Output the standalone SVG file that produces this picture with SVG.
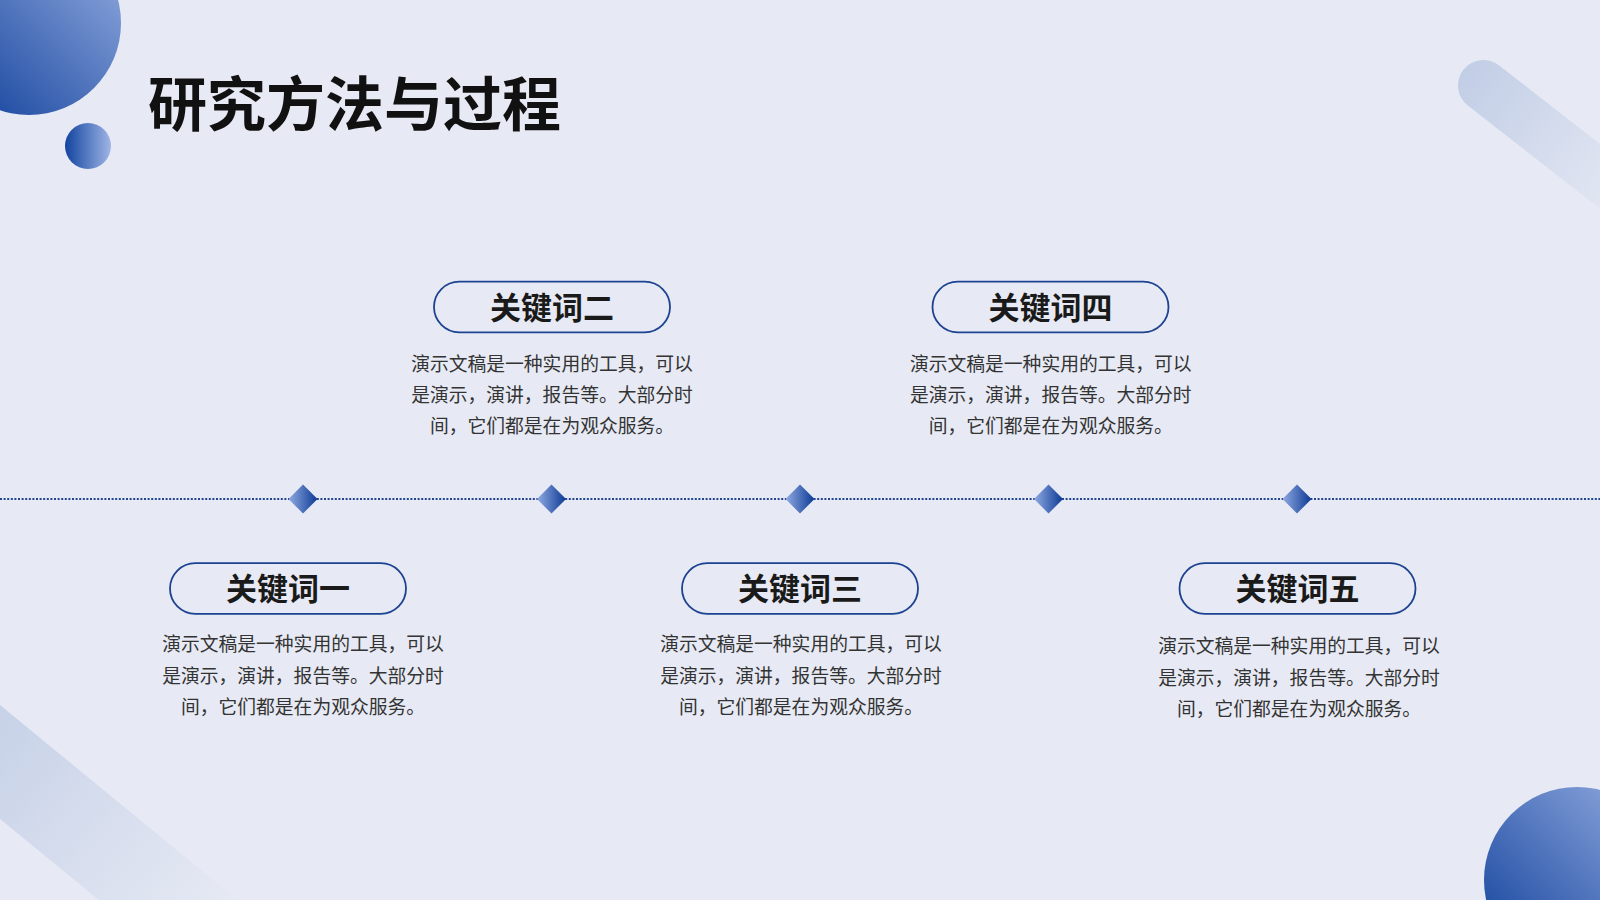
<svg xmlns="http://www.w3.org/2000/svg" width="1600" height="900" viewBox="0 0 1600 900">
  <defs>
    <linearGradient id="gBig" x1="0" y1="1" x2="1" y2="0">
      <stop offset="0" stop-color="#0a3b98"/>
      <stop offset="1" stop-color="#9ab1e3"/>
    </linearGradient>
    <linearGradient id="gSmall" x1="0" y1="0" x2="1" y2="0">
      <stop offset="0" stop-color="#1244a0"/>
      <stop offset="1" stop-color="#9fb5e5"/>
    </linearGradient>
    <linearGradient id="gDiamond" x1="0" y1="0" x2="1" y2="0">
      <stop offset="0" stop-color="#90aae2"/>
      <stop offset="1" stop-color="#0c3a94"/>
    </linearGradient>
    <linearGradient id="gBarTR" gradientUnits="userSpaceOnUse" x1="1465" y1="72" x2="1640" y2="210">
      <stop offset="0" stop-color="#c2cee6"/>
      <stop offset="1" stop-color="#e7eaf4"/>
    </linearGradient>
    <linearGradient id="gBarBL" gradientUnits="userSpaceOnUse" x1="-20" y1="720" x2="230" y2="920">
      <stop offset="0" stop-color="#c6d1e7"/>
      <stop offset="1" stop-color="#e7eaf4"/>
    </linearGradient>
  </defs>
  <style>
    .title { font-family: "Noto Sans CJK SC", "Noto Sans", sans-serif; font-weight: 700; font-size: 59px; fill: #111111; }
    .pill { fill: none; stroke: #1c4290; stroke-width: 1.8; }
    .kw { font-family: "Noto Sans CJK SC", "Noto Sans", sans-serif; font-weight: 700; font-size: 31px; fill: #1a1a1a; text-anchor: middle; }
    .body { font-family: "Noto Sans CJK SC", "Noto Sans", sans-serif; font-weight: 400; font-size: 18.8px; fill: #333333; text-anchor: middle; }
    .diamond { fill: url(#gDiamond); }
    .dots { stroke: #23448f; stroke-width: 2.2; stroke-dasharray: 2 1.6; fill: none; }
  </style>

  <rect x="0" y="0" width="1600" height="900" fill="#e7eaf4"/>

  <!-- decorations -->
  <line x1="-100" y1="680" x2="300" y2="1008" stroke="url(#gBarBL)" stroke-width="88"/>
  <line x1="1483.5" y1="85.5" x2="1690" y2="246.5" stroke="url(#gBarTR)" stroke-width="51" stroke-linecap="round"/>
  <circle cx="29" cy="23" r="92" fill="url(#gBig)"/>
  <circle cx="88" cy="146" r="23" fill="url(#gSmall)"/>
  <circle cx="1577" cy="880" r="93" fill="url(#gBig)"/>

  <text class="title" x="148" y="126">研究方法与过程</text>

  <g id="connectors">
    <line class="dots" x1="0" y1="499" x2="1600" y2="499"/>
  </g>

  <g id="markers">
    <polygon class="diamond" points="288.5,499 303,484.5 317.5,499 303,513.5"/>
    <polygon class="diamond" points="537,499 551.5,484.5 566,499 551.5,513.5"/>
    <polygon class="diamond" points="785.5,499 800,484.5 814.5,499 800,513.5"/>
    <polygon class="diamond" points="1034,499 1048.5,484.5 1063,499 1048.5,513.5"/>
    <polygon class="diamond" points="1282.5,499 1297,484.5 1311.5,499 1297,513.5"/>
  </g>

  <g id="node1">
    <rect class="pill" x="170" y="563.2" width="236" height="50.6" rx="25.3"/>
    <text class="kw" x="288" y="600">关键词一</text>
    <text class="body" x="303" y="651">演示文稿是一种实用的工具，可以</text>
    <text class="body" x="303" y="682.5">是演示，演讲，报告等。大部分时</text>
    <text class="body" x="303" y="714">间，它们都是在为观众服务。</text>
  </g>

  <g id="node2">
    <rect class="pill" x="434" y="281.7" width="236" height="50.6" rx="25.3"/>
    <text class="kw" x="552" y="318.8">关键词二</text>
    <text class="body" x="552" y="370.6">演示文稿是一种实用的工具，可以</text>
    <text class="body" x="552" y="402">是演示，演讲，报告等。大部分时</text>
    <text class="body" x="552" y="433">间，它们都是在为观众服务。</text>
  </g>

  <g id="node3">
    <rect class="pill" x="682" y="563.2" width="236" height="50.6" rx="25.3"/>
    <text class="kw" x="800" y="600">关键词三</text>
    <text class="body" x="801" y="651">演示文稿是一种实用的工具，可以</text>
    <text class="body" x="801" y="682.5">是演示，演讲，报告等。大部分时</text>
    <text class="body" x="801" y="714">间，它们都是在为观众服务。</text>
  </g>

  <g id="node4">
    <rect class="pill" x="932.5" y="281.7" width="236" height="50.6" rx="25.3"/>
    <text class="kw" x="1050.5" y="318.8">关键词四</text>
    <text class="body" x="1050.8" y="370.6">演示文稿是一种实用的工具，可以</text>
    <text class="body" x="1050.8" y="402">是演示，演讲，报告等。大部分时</text>
    <text class="body" x="1050.8" y="433">间，它们都是在为观众服务。</text>
  </g>

  <g id="node5">
    <rect class="pill" x="1179.5" y="563.2" width="236" height="50.6" rx="25.3"/>
    <text class="kw" x="1297.5" y="600">关键词五</text>
    <text class="body" x="1299" y="653">演示文稿是一种实用的工具，可以</text>
    <text class="body" x="1299" y="684.5">是演示，演讲，报告等。大部分时</text>
    <text class="body" x="1299" y="715.5">间，它们都是在为观众服务。</text>
  </g>
</svg>
